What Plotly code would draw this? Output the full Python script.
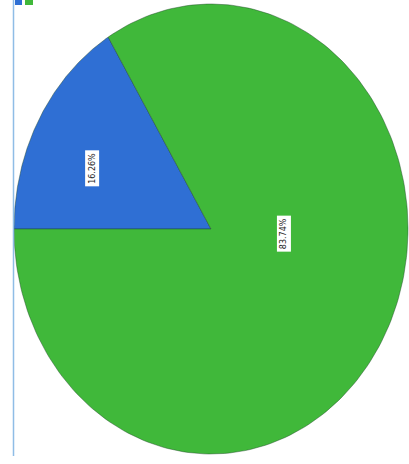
import numpy as np
import plotly.graph_objects as go

# Data
categories = ["Series A", "Series B"]
values = [16.26, 83.74]
labels = ["16.26%", "83.74%"]
colors = ["#2f6fd4", "#40b83a"]

# label placement (radius fraction, angle in degrees) - layout choice
label_r = [0.66, 0.37]
label_ang = [156, -3]

start_angle = 180.0  # 9 o'clock, clockwise

fig = go.Figure()
total = sum(values)
ang = start_angle
for cat, v, col in zip(categories, values, colors):
    sweep = v / total * 360.0
    th = np.radians(np.linspace(ang, ang - sweep, 200))
    xs = np.concatenate([[0], np.cos(th), [0]])
    ys = np.concatenate([[0], np.sin(th), [0]])
    fig.add_trace(go.Scatter(x=xs, y=ys, fill="toself", fillcolor=col, mode="lines",
                             line=dict(color="rgba(30,70,40,0.55)", width=0.8),
                             name=cat, hoverinfo="name", showlegend=False))
    ang -= sweep

for lab, r, a in zip(labels, label_r, label_ang):
    t = np.radians(a)
    fig.add_annotation(x=r * np.cos(t), y=r * np.sin(t), text=lab, textangle=-90,
                       showarrow=False, bgcolor="white", borderpad=2,
                       font=dict(family="DejaVu Sans", size=8, color="#222222"))

W, H = 409, 464
cx_px, rx_px = 211, 197
cy_px, ry_px = 229, 225
fig.update_layout(
    width=W, height=H, margin=dict(l=0, r=0, t=0, b=0),
    paper_bgcolor="white", plot_bgcolor="white",
    xaxis=dict(range=[-cx_px / rx_px, (W - cx_px) / rx_px], visible=False, fixedrange=True),
    yaxis=dict(range=[-(H - cy_px) / ry_px, cy_px / ry_px], visible=False, fixedrange=True),
    shapes=[
        dict(type="line", xref="paper", yref="paper", x0=13.5 / W, x1=13.5 / W,
             y0=1, y1=1 - 456 / H, line=dict(color="#8fbde6", width=1.5)),
        dict(type="rect", xref="paper", yref="paper", x0=15 / W, x1=22 / W,
             y0=1, y1=1 - 5 / H, fillcolor=colors[0], line=dict(width=0)),
        dict(type="rect", xref="paper", yref="paper", x0=25 / W, x1=33 / W,
             y0=1, y1=1 - 5 / H, fillcolor=colors[1], line=dict(width=0)),
    ],
)

fig.write_html("out.html", config={"displayModeBar": False},
               post_script="document.body.style.margin='0px';document.body.style.overflow='hidden';")
